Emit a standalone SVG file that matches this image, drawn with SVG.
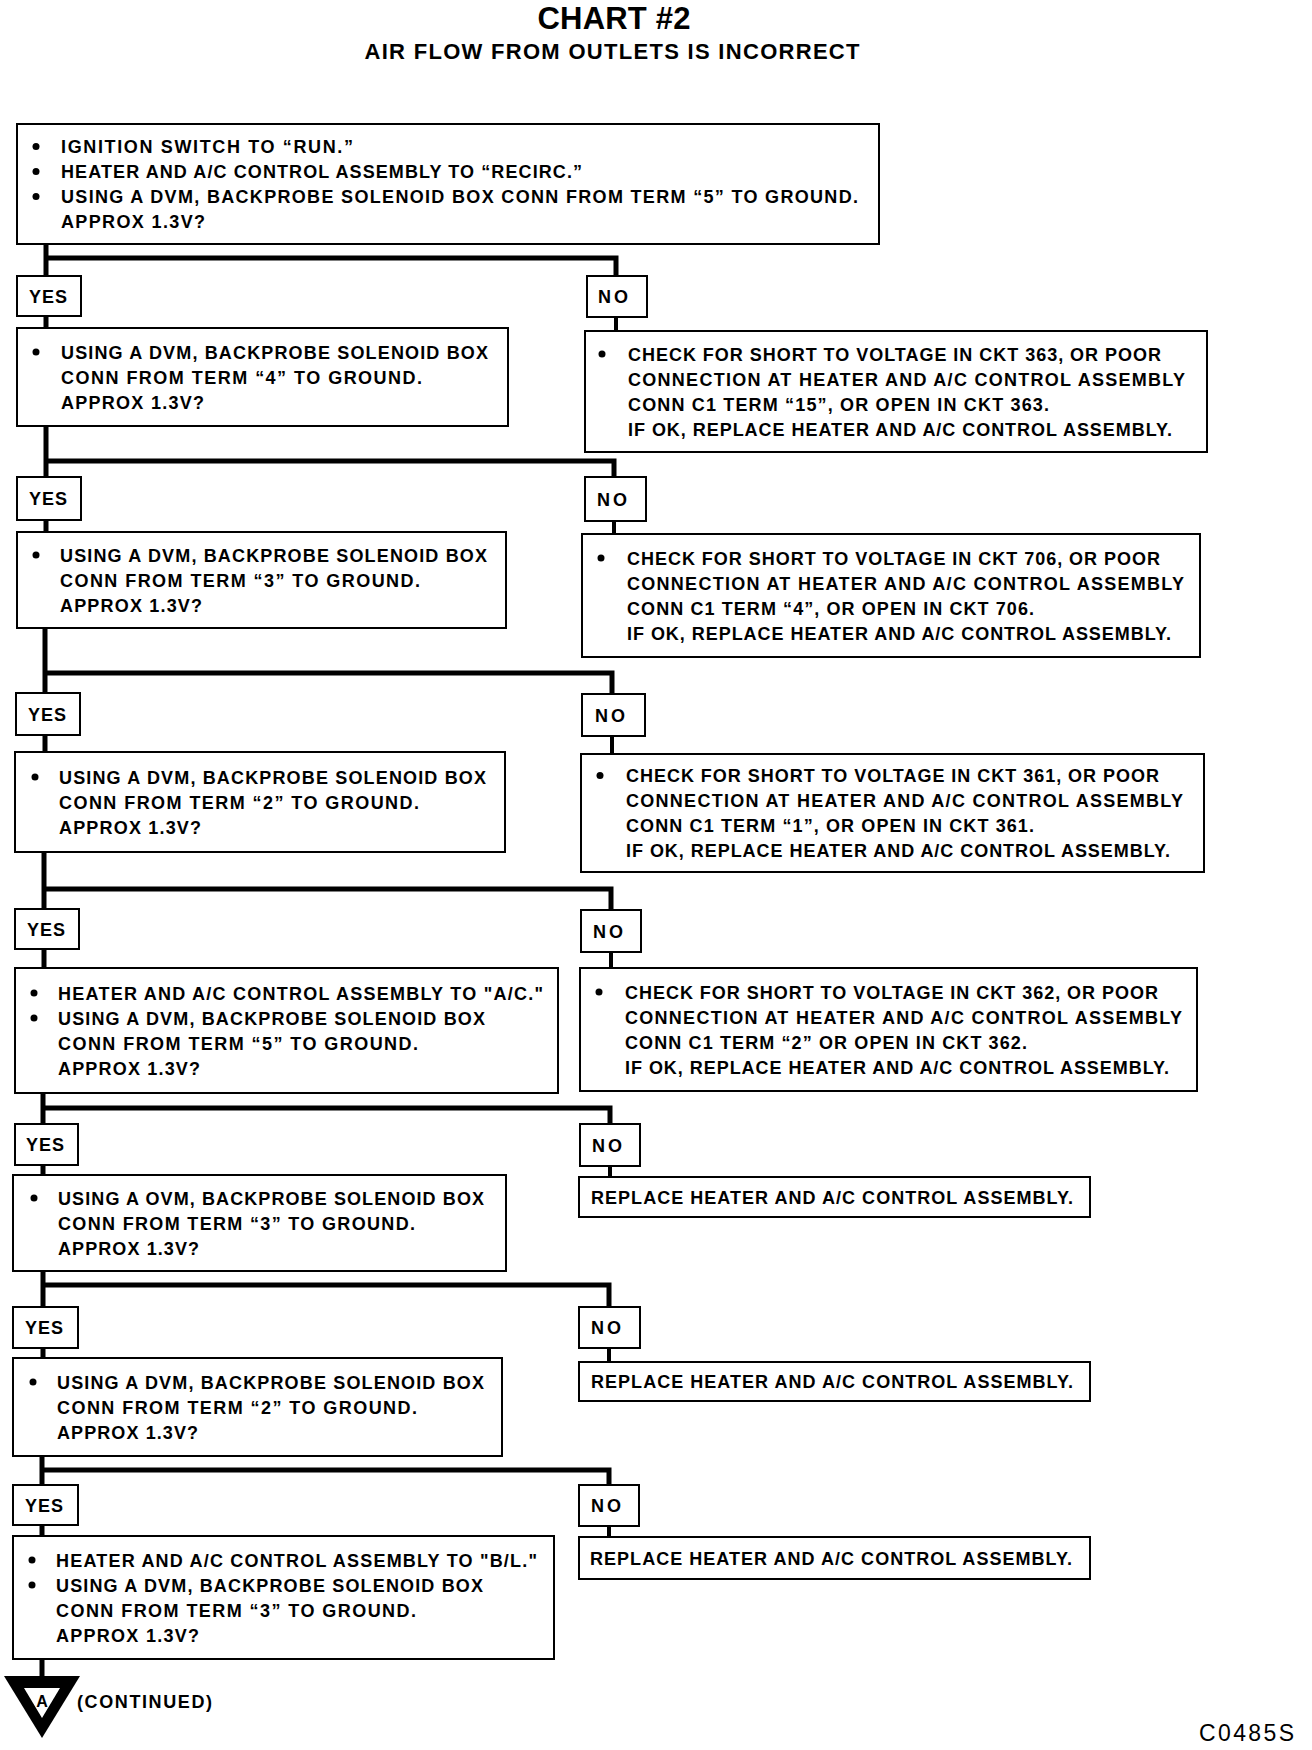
<svg xmlns="http://www.w3.org/2000/svg" width="1312" height="1750" viewBox="0 0 1312 1750">
<style>
.bg{fill:#fff}
.box{fill:#fff;stroke:#000;stroke-width:2}
.t{font-family:"Liberation Sans",Arial,sans-serif;font-weight:bold;font-size:18px;fill:#000}
.lbl{font-family:"Liberation Sans",Arial,sans-serif;font-weight:bold;font-size:18px;fill:#000}
.ttl{font-family:"Liberation Sans",Arial,sans-serif;font-weight:bold;fill:#000}
.c{stroke:#000;stroke-width:5;fill:none;stroke-linejoin:miter}
.c2{stroke:#000;stroke-width:4;fill:none}
.bul{fill:#000}
</style>
<rect class="bg" x="0" y="0" width="1312" height="1750"/>
<g id="title">
<text class="ttl" x="614" y="29" font-size="31" text-anchor="middle" textLength="153">CHART #2</text>
<text class="ttl" x="612" y="59" font-size="22" text-anchor="middle" textLength="495">AIR FLOW FROM OUTLETS IS INCORRECT</text>
</g>
<g id="connectors">
<path class="c" d="M46,244 V276 M46,316 V328 M46,426 V477 M46,520 V532 M45,628 V693 M45,735 V752 M44,852 V909 M44,949 V968 M43,1093 V1124 M43,1165 V1175 M43,1271 V1307 M43,1348 V1358 M42,1456 V1485 M42,1525 V1536 M42,1659 V1680"/>
<path class="c" d="M46,258 H616 V276"/>
<path class="c" d="M46,461 H614 V477"/>
<path class="c" d="M45,673 H612 V694"/>
<path class="c" d="M44,889 H611 V910"/>
<path class="c" d="M43,1108 H610 V1124"/>
<path class="c" d="M43,1285 H609 V1307"/>
<path class="c" d="M42,1470 H609 V1485"/>
<path class="c2" d="M616,317 V331 M614,521 V534 M612,736 V754 M611,952 V968 M610,1166 V1177 M609,1348 V1362 M609,1526 V1537"/>
</g>
<g id="n-start">
<rect class="box" x="17" y="124" width="862" height="120"/>
<circle class="bul" cx="36" cy="146.5" r="3.5"/>
<circle class="bul" cx="36" cy="171.5" r="3.5"/>
<circle class="bul" cx="36" cy="196.5" r="3.5"/>
<text class="t" x="61" y="153" textLength="292">IGNITION SWITCH TO “RUN.”</text>
<text class="t" x="61" y="178" textLength="521">HEATER AND A/C CONTROL ASSEMBLY TO “RECIRC.”</text>
<text class="t" x="61" y="203" textLength="797">USING A DVM, BACKPROBE SOLENOID BOX CONN FROM TERM “5” TO GROUND.</text>
<text class="t" x="61" y="228" textLength="144">APPROX 1.3V?</text>
</g>
<g id="yes1"><rect class="box" x="17" y="276" width="64" height="40"/><text class="lbl" x="29" y="302.5" textLength="38">YES</text></g>
<g id="no1"><rect class="box" x="587" y="276" width="60" height="41"/><text class="lbl" x="598" y="303" textLength="30">NO</text></g>
<g id="y1">
<rect class="box" x="17" y="328" width="491" height="98"/>
<circle class="bul" cx="36" cy="352" r="3.5"/>
<text class="t" x="61" y="358.5" textLength="427">USING A DVM, BACKPROBE SOLENOID BOX</text>
<text class="t" x="61" y="383.5" textLength="361">CONN FROM TERM “4” TO GROUND.</text>
<text class="t" x="61" y="408.5" textLength="143">APPROX 1.3V?</text>
</g>
<g id="n1">
<rect class="box" x="585" y="331" width="622" height="121"/>
<circle class="bul" cx="602" cy="354" r="3.5"/>
<text class="t" x="628" y="360.5" textLength="533">CHECK FOR SHORT TO VOLTAGE IN CKT 363, OR POOR</text>
<text class="t" x="628" y="385.5" textLength="557">CONNECTION AT HEATER AND A/C CONTROL ASSEMBLY</text>
<text class="t" x="628" y="410.5" textLength="421">CONN C1 TERM “15”, OR OPEN IN CKT 363.</text>
<text class="t" x="628" y="435.5" textLength="544">IF OK, REPLACE HEATER AND A/C CONTROL ASSEMBLY.</text>
</g>
<g id="yes2"><rect class="box" x="17" y="477" width="64" height="43"/><text class="lbl" x="29" y="505" textLength="38">YES</text></g>
<g id="no2"><rect class="box" x="585" y="477" width="61" height="44"/><text class="lbl" x="597" y="505.5" textLength="30">NO</text></g>
<g id="y2">
<rect class="box" x="17" y="532" width="489" height="96"/>
<circle class="bul" cx="36" cy="555" r="3.5"/>
<text class="t" x="60" y="561.5" textLength="427">USING A DVM, BACKPROBE SOLENOID BOX</text>
<text class="t" x="60" y="586.5" textLength="360">CONN FROM TERM “3” TO GROUND.</text>
<text class="t" x="60" y="611.5" textLength="142">APPROX 1.3V?</text>
</g>
<g id="n2">
<rect class="box" x="582" y="534" width="618" height="123"/>
<circle class="bul" cx="601" cy="558" r="3.5"/>
<text class="t" x="627" y="564.5" textLength="533">CHECK FOR SHORT TO VOLTAGE IN CKT 706, OR POOR</text>
<text class="t" x="627" y="589.5" textLength="557">CONNECTION AT HEATER AND A/C CONTROL ASSEMBLY</text>
<text class="t" x="627" y="614.5" textLength="407">CONN C1 TERM “4”, OR OPEN IN CKT 706.</text>
<text class="t" x="627" y="639.5" textLength="544">IF OK, REPLACE HEATER AND A/C CONTROL ASSEMBLY.</text>
</g>
<g id="yes3"><rect class="box" x="16" y="693" width="64" height="42"/><text class="lbl" x="28" y="720.5" textLength="38">YES</text></g>
<g id="no3"><rect class="box" x="582" y="694" width="63" height="42"/><text class="lbl" x="595" y="721.5" textLength="30">NO</text></g>
<g id="y3">
<rect class="box" x="15" y="752" width="490" height="100"/>
<circle class="bul" cx="35" cy="777" r="3.5"/>
<text class="t" x="59" y="783.5" textLength="427">USING A DVM, BACKPROBE SOLENOID BOX</text>
<text class="t" x="59" y="808.5" textLength="360">CONN FROM TERM “2” TO GROUND.</text>
<text class="t" x="59" y="833.5" textLength="142">APPROX 1.3V?</text>
</g>
<g id="n3">
<rect class="box" x="581" y="754" width="623" height="118"/>
<circle class="bul" cx="600" cy="775.5" r="3.5"/>
<text class="t" x="626" y="782" textLength="533">CHECK FOR SHORT TO VOLTAGE IN CKT 361, OR POOR</text>
<text class="t" x="626" y="807" textLength="557">CONNECTION AT HEATER AND A/C CONTROL ASSEMBLY</text>
<text class="t" x="626" y="832" textLength="408">CONN C1 TERM “1”, OR OPEN IN CKT 361.</text>
<text class="t" x="626" y="857" textLength="544">IF OK, REPLACE HEATER AND A/C CONTROL ASSEMBLY.</text>
</g>
<g id="yes4"><rect class="box" x="15" y="909" width="64" height="40"/><text class="lbl" x="27" y="935.5" textLength="38">YES</text></g>
<g id="no4"><rect class="box" x="581" y="910" width="60" height="42"/><text class="lbl" x="593" y="937.5" textLength="30">NO</text></g>
<g id="y4">
<rect class="box" x="15" y="968" width="543" height="125"/>
<circle class="bul" cx="34" cy="993" r="3.5"/>
<circle class="bul" cx="34" cy="1018" r="3.5"/>
<text class="t" x="58" y="999.5" textLength="485">HEATER AND A/C CONTROL ASSEMBLY TO "A/C."</text>
<text class="t" x="58" y="1024.5" textLength="427">USING A DVM, BACKPROBE SOLENOID BOX</text>
<text class="t" x="58" y="1049.5" textLength="360">CONN FROM TERM “5” TO GROUND.</text>
<text class="t" x="58" y="1074.5" textLength="142">APPROX 1.3V?</text>
</g>
<g id="n4">
<rect class="box" x="580" y="968" width="617" height="123"/>
<circle class="bul" cx="599" cy="992" r="3.5"/>
<text class="t" x="625" y="998.5" textLength="533">CHECK FOR SHORT TO VOLTAGE IN CKT 362, OR POOR</text>
<text class="t" x="625" y="1023.5" textLength="557">CONNECTION AT HEATER AND A/C CONTROL ASSEMBLY</text>
<text class="t" x="625" y="1048.5" textLength="402">CONN C1 TERM “2” OR OPEN IN CKT 362.</text>
<text class="t" x="625" y="1073.5" textLength="544">IF OK, REPLACE HEATER AND A/C CONTROL ASSEMBLY.</text>
</g>
<g id="yes5"><rect class="box" x="15" y="1124" width="63" height="41"/><text class="lbl" x="26" y="1151" textLength="38">YES</text></g>
<g id="no5"><rect class="box" x="580" y="1124" width="60" height="42"/><text class="lbl" x="592" y="1151.5" textLength="30">NO</text></g>
<g id="y5">
<rect class="box" x="13" y="1175" width="493" height="96"/>
<circle class="bul" cx="34" cy="1198" r="3.5"/>
<text class="t" x="58" y="1204.5" textLength="426">USING A OVM, BACKPROBE SOLENOID BOX</text>
<text class="t" x="58" y="1229.5" textLength="357">CONN FROM TERM “3” TO GROUND.</text>
<text class="t" x="58" y="1254.5" textLength="141">APPROX 1.3V?</text>
</g>
<g id="n5">
<rect class="box" x="579" y="1177" width="511" height="40"/>
<text class="t" x="591" y="1203.5" textLength="482">REPLACE HEATER AND A/C CONTROL ASSEMBLY.</text>
</g>
<g id="yes6"><rect class="box" x="13" y="1307" width="65" height="41"/><text class="lbl" x="25" y="1334" textLength="38">YES</text></g>
<g id="no6"><rect class="box" x="579" y="1307" width="61" height="41"/><text class="lbl" x="591" y="1334" textLength="30">NO</text></g>
<g id="y6">
<rect class="box" x="13" y="1358" width="489" height="98"/>
<circle class="bul" cx="33" cy="1382" r="3.5"/>
<text class="t" x="57" y="1388.5" textLength="427">USING A DVM, BACKPROBE SOLENOID BOX</text>
<text class="t" x="57" y="1413.5" textLength="360">CONN FROM TERM “2” TO GROUND.</text>
<text class="t" x="57" y="1438.5" textLength="141">APPROX 1.3V?</text>
</g>
<g id="n6">
<rect class="box" x="579" y="1362" width="511" height="39"/>
<text class="t" x="591" y="1388" textLength="482">REPLACE HEATER AND A/C CONTROL ASSEMBLY.</text>
</g>
<g id="yes7"><rect class="box" x="13" y="1485" width="65" height="40"/><text class="lbl" x="25" y="1511.5" textLength="38">YES</text></g>
<g id="no7"><rect class="box" x="579" y="1485" width="60" height="41"/><text class="lbl" x="591" y="1512" textLength="30">NO</text></g>
<g id="y7">
<rect class="box" x="13" y="1536" width="541" height="123"/>
<circle class="bul" cx="32" cy="1560" r="3.5"/>
<circle class="bul" cx="32" cy="1585" r="3.5"/>
<text class="t" x="56" y="1566.5" textLength="481">HEATER AND A/C CONTROL ASSEMBLY TO "B/L."</text>
<text class="t" x="56" y="1591.5" textLength="427">USING A DVM, BACKPROBE SOLENOID BOX</text>
<text class="t" x="56" y="1616.5" textLength="360">CONN FROM TERM “3” TO GROUND.</text>
<text class="t" x="56" y="1641.5" textLength="143">APPROX 1.3V?</text>
</g>
<g id="n7">
<rect class="box" x="579" y="1537" width="511" height="42"/>
<text class="t" x="590" y="1564.5" textLength="482">REPLACE HEATER AND A/C CONTROL ASSEMBLY.</text>
</g>
<g id="connector-a">
<polygon points="4,1676 80,1676 42,1738" fill="#000"/>
<polygon points="24,1688 60,1688 42,1718" fill="#fff"/>
<text class="ttl" x="42" y="1707" font-size="16" text-anchor="middle">A</text>
<text class="t" x="77" y="1708" textLength="135">(CONTINUED)</text>
</g>
<text x="1199" y="1741" font-family="'Liberation Sans',Arial,sans-serif" font-size="23" textLength="95">C0485S</text>
</svg>
